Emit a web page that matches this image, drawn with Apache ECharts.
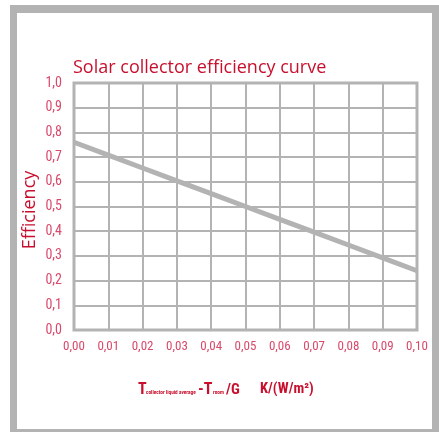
<!DOCTYPE html>
<html><head><meta charset="utf-8">
<script src="https://cdn.jsdelivr.net/npm/echarts@6/dist/echarts.min.js"></script>
<style>html,body{margin:0;padding:0;background:#fff}#c{width:439px;height:432px}</style>
</head><body><div id="c"></div>
<script>
const xValues = [0.00, 0.01, 0.02, 0.03, 0.04, 0.05, 0.06, 0.07, 0.08, 0.09, 0.10];
const efficiency = [0.76, 0.708, 0.656, 0.604, 0.552, 0.50, 0.448, 0.396, 0.344, 0.292, 0.24];
const xTicks = ['0,00','0,01','0,02','0,03','0,04','0,05','0,06','0,07','0,08','0,09','0,10'];
const yTicks = ['0,0','0,1','0,2','0,3','0,4','0,5','0,6','0,7','0,8','0,9','1,0'];

const chart = echarts.init(document.getElementById('c'), null, {renderer:'canvas'});
const red = '#c8102e', pink = '#d9496b', gray = '#b3b3b3';
const cond = "'Roboto Condensed', 'DejaVu Sans Condensed', sans-serif";
const bold = (text, x, size) => ({type:'text', x:x, y:394 + 0.22*size, z:10,
  style:{text:text, fill:red, font:'bold '+size+'px '+cond, verticalAlign:'bottom'}});
chart.setOption({
  animation:false,
  graphic:[
    {type:'rect', shape:{x:10,y:5,width:429,height:427}, style:{fill:'#b3b3b3'}, z:-10},
    {type:'rect', shape:{x:17,y:13,width:415,height:416}, style:{fill:'#fff'}, z:-9},
    {type:'text', x:30, y:210, rotation:Math.PI/2, z:10,
     style:{text:'Efficiency', fill:red, font:"18px 'Open Sans', sans-serif", align:'center', verticalAlign:'middle'}},
    bold('T', 138, 16),
    bold('collector liquid average', 146, 5.3),
    bold('-T', 198, 16),
    bold('room', 213, 5.3),
    bold('/G', 226, 15),
    bold('K/(W/m²)', 260, 14.5)
  ],
  title:[
    {text:'Solar collector efficiency curve', left:68, top:54,
     textStyle:{color:red, fontSize:18, fontWeight:'normal', fontFamily:"'Open Sans', sans-serif"}}
  ],
  grid:{left:74, top:83, right:22, bottom:102, show:true, borderColor:gray, borderWidth:3},
  xAxis:{type:'value', min:0, max:0.1, interval:0.01,
    axisLine:{show:false}, axisTick:{show:false},
    splitLine:{show:true, lineStyle:{color:gray, width:2}},
    axisLabel:{color:pink, fontSize:13, fontWeight:'normal', fontFamily:cond, margin:10,
      formatter:(v)=>xTicks[Math.round(v*100)]}},
  yAxis:{type:'value', min:0, max:1, interval:0.1,
    axisLine:{show:false}, axisTick:{show:false},
    splitLine:{show:true, lineStyle:{color:gray, width:2}},
    axisLabel:{color:pink, fontSize:14, fontWeight:'normal', fontFamily:cond, margin:12,
      formatter:(v)=>yTicks[Math.round(v*10)]}},
  series:[{type:'line', data:xValues.map((x,i)=>[x,efficiency[i]]), showSymbol:false,
    lineStyle:{color:gray, width:5}, clip:true}]
});
</script></body></html>
